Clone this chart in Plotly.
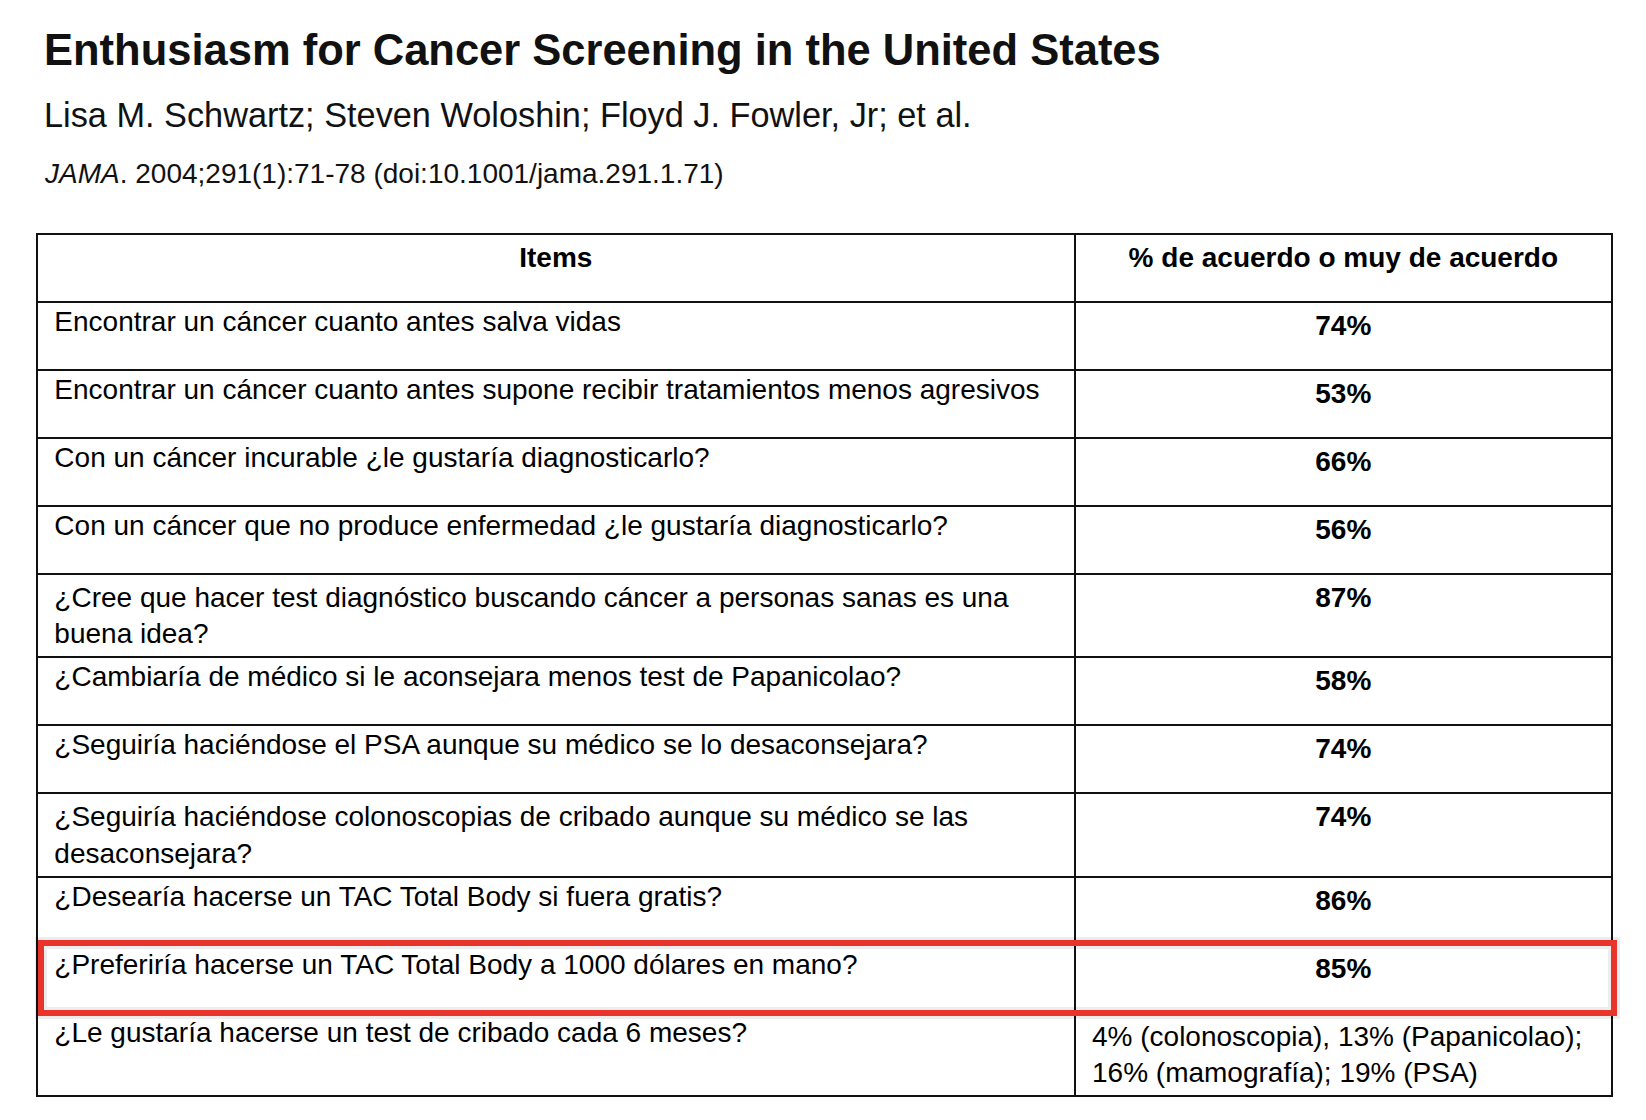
import plotly.graph_objects as go

# text of the figure
title = "Enthusiasm for Cancer Screening in the United States"
authors = "Lisa M. Schwartz; Steven Woloshin; Floyd J. Fowler, Jr; et al."
citation = "<i>JAMA</i>. 2004;291(1):71-78 (doi:10.1001/jama.291.1.71)"

headers = ["Items", "% de acuerdo o muy de acuerdo"]

items = [
    "Encontrar un cáncer cuanto antes salva vidas",
    "Encontrar un cáncer cuanto antes supone recibir tratamientos menos agresivos",
    "Con un cáncer incurable ¿le gustaría diagnosticarlo?",
    "Con un cáncer que no produce enfermedad ¿le gustaría diagnosticarlo?",
    "¿Cree que hacer test diagnóstico buscando cáncer a personas sanas es una<br>buena idea?",
    "¿Cambiaría de médico si le aconsejara menos test de Papanicolao?",
    "¿Seguiría haciéndose el PSA aunque su médico se lo desaconsejara?",
    "¿Seguiría haciéndose colonoscopias de cribado aunque su médico se las<br>desaconsejara?",
    "¿Desearía hacerse un TAC Total Body si fuera gratis?",
    "¿Preferiría hacerse un TAC Total Body a 1000 dólares en mano?",
    "¿Le gustaría hacerse un test de cribado cada 6 meses?",
]

agree = [
    "74%", "53%", "66%", "56%", "87%", "58%", "74%", "74%", "86%", "85%",
    "4% (colonoscopia), 13% (Papanicolao);<br>16% (mamografía); 19% (PSA)",
]

highlight_row = 9  # the "1000 dólares" question

W, H = 1646, 1120
FONT = "Liberation Sans, Arial, sans-serif"
TABLE_TOP = 226
ROW_H = 68
ROW_H2 = 85  # rows with two lines of text

n = len(items)
PAD = "\u2005\u200a"  # extra left inset, plotly's own cell pad is small


def padded(s):
    return PAD + s.replace("<br>", "<br>" + PAD)


# percentages bold and centered, the free-text answer plain and left aligned
agree_txt = [f"<b>{a}</b>" if a.endswith("%") else padded(a) for a in agree]
agree_align = ["center" if a.endswith("%") else "left" for a in agree]

fig = go.Figure(go.Table(
    domain=dict(x=[29 / W, 1604 / W], y=[0.0, 1 - TABLE_TOP / H]),
    columnwidth=[1037, 537],
    header=dict(
        values=[f"<b>{h}</b>" for h in headers],
        align="center",
        height=ROW_H,
        line=dict(color="#111111", width=2),
        fill_color="white",
        font=dict(family=FONT, size=28, color="black"),
    ),
    cells=dict(
        values=[[padded(s) for s in items], agree_txt],
        align=["left", "center"],
        height=ROW_H,
        line=dict(color="#111111", width=2),
        fill_color="white",
        font=dict(family=FONT, size=28, color="black"),
    ),
))
# plotly.js takes a per-cell grid for align, the python validator only 1D
fig._data[0]["cells"]["align"] = [["left"] * n, agree_align]

# red highlight box around one row
n2 = sum("<br>" in s for s in items[:highlight_row])
row_top = TABLE_TOP + ROW_H * (highlight_row + 1 - n2) + ROW_H2 * n2
for col, wd in [("rgba(0,0,0,0.07)", 12), ("#e8342a", 6)]:
    fig.add_shape(type="rect", xref="paper", yref="paper",
                  x0=33 / W, x1=1606 / W,
                  y0=1 - (row_top - 5) / H, y1=1 - (row_top + ROW_H - 3) / H,
                  line=dict(color=col, width=wd))

fig.add_annotation(text=f"<b>{title}</b>", x=34 / W, y=1 - 42 / H, xref="paper", yref="paper",
                   xanchor="left", yanchor="middle", showarrow=False,
                   font=dict(family=FONT, size=43.5, color="#111111"))
fig.add_annotation(text=authors, x=34 / W, y=1 - 107 / H, xref="paper", yref="paper",
                   xanchor="left", yanchor="middle", showarrow=False,
                   font=dict(family=FONT, size=34.3, color="#111111"))
fig.add_annotation(text=citation, x=34 / W, y=1 - 165 / H, xref="paper", yref="paper",
                   xanchor="left", yanchor="middle", showarrow=False,
                   font=dict(family=FONT, size=28, color="#111111"))

fig.update_layout(
    width=W, height=H,
    margin=dict(l=0, r=0, t=0, b=0),
    paper_bgcolor="white",
    plot_bgcolor="white",
)
fig.write_html("out.html")
